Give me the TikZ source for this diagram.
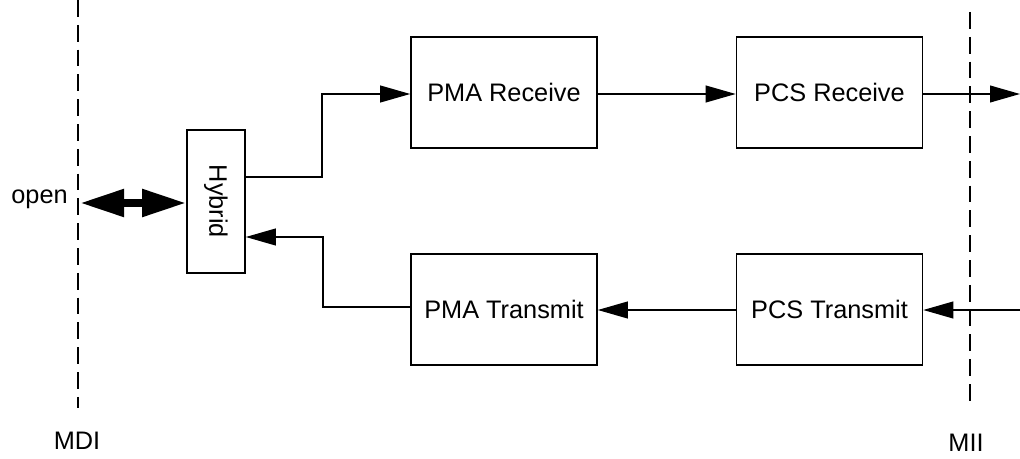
\documentclass[tikz,border=0pt]{standalone}
\usepackage{fontspec}
\setmainfont{Liberation Sans}
\usetikzlibrary{positioning,calc}
\usetikzlibrary{arrows.meta}
\tikzset{
  blk/.style={draw=black,line width=1.1pt,minimum width=4.65cm,minimum height=2.775cm,
    inner sep=0pt,font=\fontsize{18}{20}\selectfont},
  hyb/.style={draw=black,line width=1.1pt,minimum width=1.45cm,minimum height=3.575cm,
    inner sep=0pt},
  sig/.style={draw=black,line width=1.1pt,-{Triangle[length=0.75cm,width=0.42cm]}},
  border/.style={draw=black,line width=1.1pt,dash pattern=on 0.42cm off 0.2cm},
  lbl/.style={font=\fontsize{18}{20}\selectfont,inner sep=0pt},
  fat/.style={line width=0.2cm,{Triangle[length=1.1cm 0 0,width=0.65cm 0 0]}-{Triangle[length=1.1cm 0 0,width=0.65cm 0 0]}},
}
\begin{document}
\begin{tikzpicture}[x=0.025cm,y=-0.025cm]
\useasboundingbox (0,0) rectangle (1020,459);
% interface borders
\coordinate (mdiT) at (78,0);
\coordinate (mdiB) at (78,408);
\coordinate (miiT) at (970,12);
\coordinate (miiB) at (970,408);
\draw[border] (mdiT)--(mdiB);
\draw[border] (miiT)--(miiB);
\node[lbl] (mdi) at (77,441) {MDI};
\node[lbl] (mii) at (966,443) {MII};
% blocks
\node[hyb] (hybrid) at (216,201.5) {};
\node[lbl,rotate=-90] at (hybrid.center) {Hybrid};
\node[blk] (pmarx) at (504,92.5) {PMA Receive};
\node[blk] (pcsrx) at (829.5,92.5) {PCS Receive};
\node[blk] (pmatx) at (504,309.5) {PMA Transmit};
\node[blk] (pcstx) at (829.5,309.5) {PCS Transmit};
% medium side
\node[lbl,anchor=east] (open) at (68,199) {open};
\coordinate (line) at (80,203);
\draw[fat] (line)--(hybrid.west|-line);
% receive path
\draw[sig] (hybrid.east|-0,177) -| (322,94) -- (pmarx.west|-0,94);
\draw[sig] (pmarx.east|-0,94) -- (pcsrx.west|-0,94);
\coordinate (rxout) at (1020,94);
\draw[sig] (pcsrx.east|-rxout) -- (rxout);
% transmit path
\coordinate (txin) at (1020,310);
\draw[sig] (txin) -- (pcstx.east|-txin);
\draw[sig] (pcstx.west|-txin) -- (pmatx.east|-txin);
\draw[sig] (pmatx.west|-0,307) -| (323,237) -- (hybrid.east|-0,237);
\end{tikzpicture}
\end{document}
